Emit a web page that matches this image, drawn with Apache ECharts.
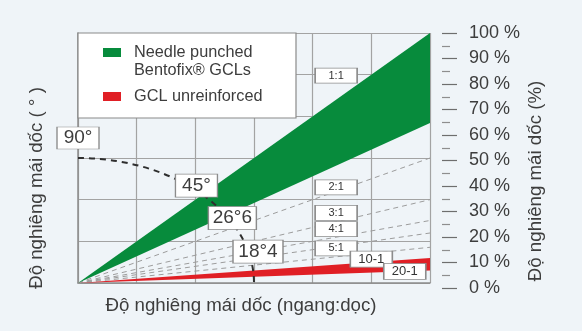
<!DOCTYPE html>
<html>
<head>
<meta charset="utf-8">
<script src="https://cdn.jsdelivr.net/npm/echarts@6/dist/echarts.min.js"></script>
<style>
  html, body { margin: 0; padding: 0; background: #eff4f8; }
  #chart { width: 582px; height: 331px; }
</style>
</head>
<body>
<div id="chart"></div>
<script>
// Horizontal span of the slope diagram (grid units); the vertical span is the same,
// and a full-height rise over the full span is a 100 % slope.
const spanX = [0, 6];
const spanY = [0, 6];

// Slope bands, in percent (lower edge, upper edge)
const bandNames = ['Needle punched Bentofix® GCLs', 'GCL unreinforced'];
const gclBandPct = [64, 100];
const unreinforcedBandPct = [5, 10];

// Dashed guide slopes, as horizontal : vertical ratio
const guideRatios = [2, 3, 4, 5, 7];

// Ratio tags
const ratioTagRatios = [1, 2, 3, 4, 5, 10, 20];
const ratioTagTexts = ['1:1', '2:1', '3:1', '4:1', '5:1', '10-1', '20-1'];
const ratioTagAtX = [4.4, 4.4, 4.4, 4.4, 4.4, 5.0, 5.57];

// Angle marks on the reference arc
const arcRadius = [3];
const angleDegrees = [90, 45, 26.6, 18.4];
const angleTexts = ['90°', '45°', '26°6', '18°4'];

// Right-hand percentage scale
const pctScale = { min: 0, max: 100, step: 10 };

// Axis titles
const titleX = 'Độ nghiêng mái dốc (ngang:dọc)';
const titleLeft = 'Độ nghiêng mái dốc ( ° )';
const titleRight = 'Độ nghiêng mái dốc (%)';

const FONT = '"Liberation Sans", Arial, Helvetica, sans-serif';
const TEXT = '#3d3d3d';
const GREEN = '#078b3c';
const RED = '#e01f25';
const BOX_BORDER = '#8c8c8c';

const chart = echarts.init(document.getElementById('chart'), null, { renderer: 'canvas' });

function bandSeries(name, pct, color) {
  return {
    type: 'custom',
    name: name,
    xAxisIndex: 0, yAxisIndex: 0,
    z: 3, silent: true,
    data: [[spanX[1], pct[0], pct[1]]],
    encode: { x: 0, y: 1 },
    renderItem: function (params, api) {
      const x = api.value(0), lo = api.value(1), hi = api.value(2);
      const o = api.coord([0, 0]);
      const a = api.coord([x, x * hi / 100]);
      const b = api.coord([x, x * lo / 100]);
      return { type: 'polygon', shape: { points: [o, a, b] }, style: { fill: color } };
    }
  };
}

const guideSeries = guideRatios.map(function (r) {
  return {
    type: 'line', xAxisIndex: 0, yAxisIndex: 0, z: 2, silent: true,
    symbol: 'none', animation: false,
    data: [[0, 0], [spanX[1], spanX[1] / r]],
    lineStyle: { color: '#9c9c9c', width: 1, type: [5, 4] }
  };
});

// arc through the angle marks: quarter circle in grid units
const arcSeries = {
  type: 'custom', xAxisIndex: 0, yAxisIndex: 0, z: 4, silent: true,
  data: [[arcRadius[0], 0]],
  encode: { x: 0, y: 1 },
  renderItem: function (params, api) {
    const r = api.value(0);
    const o = api.coord([0, 0]);
    const top = api.coord([0, r]);
    const right = api.coord([r, 0]);
    const rx = right[0] - o[0], ry = o[1] - top[1];
    return {
      type: 'path',
      shape: { pathData: 'M' + top[0] + ' ' + top[1] + ' A' + rx + ' ' + ry + ' 0 0 1 ' + right[0] + ' ' + right[1] },
      style: { fill: 'none', stroke: '#2e2e2e', lineWidth: 2, lineDash: [6, 5] }
    };
  }
};

const angleBoxSizes = [[42, 22], [42, 23], [48, 23], [50, 23]];
const angleBoxOffsets = [[0, -20], [-6, -9], [-3, -9], [13, 8]];
const angleSeries = {
  type: 'scatter', xAxisIndex: 0, yAxisIndex: 0, z: 6, silent: true, animation: false,
  data: angleDegrees.map(function (d, i) {
    const t = d * Math.PI / 180;
    return {
      value: [arcRadius[0] * Math.cos(t), arcRadius[0] * Math.sin(t)],
      symbol: 'rect',
      symbolSize: angleBoxSizes[i],
      symbolOffset: angleBoxOffsets[i],
      label: {
        show: true, position: 'inside', formatter: angleTexts[i],
        fontSize: 19, fontFamily: FONT, color: TEXT
      }
    };
  }),
  itemStyle: { color: '#ffffff', borderColor: BOX_BORDER, borderWidth: 1, opacity: 1 }
};

const ratioBoxSizes = [[42, 15], [42, 15], [42, 15], [42, 15], [42, 15], [42, 16], [42, 16]];
const ratioBoxOffsets = [[0, -24], [0, -4], [0, -9], [0, -8], [0, 2], [0, -3], [0, 0]];
const ratioSeries = {
  type: 'scatter', xAxisIndex: 0, yAxisIndex: 0, z: 6, silent: true, animation: false,
  data: ratioTagRatios.map(function (r, i) {
    const x = ratioTagAtX[i];
    return {
      value: [x, x / r],
      symbol: 'rect',
      symbolSize: ratioBoxSizes[i],
      symbolOffset: ratioBoxOffsets[i],
      label: {
        show: true, position: 'inside', formatter: ratioTagTexts[i],
        fontSize: i >= 5 ? 13 : 11, fontFamily: FONT, color: '#333'
      }
    };
  }),
  itemStyle: { color: '#ffffff', borderColor: BOX_BORDER, borderWidth: 1, opacity: 1 }
};

const option = {
  backgroundColor: '#eff4f8',
  animation: false,
  textStyle: { fontFamily: FONT },
  grid: [
    { left: 78, top: 33, width: 352, height: 250, outerBoundsMode: 'none' },
    { left: 78, top: 33, width: 352, height: 255, outerBoundsMode: 'none' }
  ],
  xAxis: [
    {
      gridIndex: 0, type: 'value', min: spanX[0], max: spanX[1], interval: 1,
      axisLabel: { show: false }, axisTick: { show: false },
      axisLine: { show: true, lineStyle: { color: '#8c8c8c', width: 1.5 } },
      splitLine: { show: true, lineStyle: { color: '#a3a3a3', width: 1.2 } }
    },
    { gridIndex: 1, type: 'value', min: 0, max: 1, show: false }
  ],
  yAxis: [
    {
      gridIndex: 0, type: 'value', min: spanY[0], max: spanY[1], interval: 1,
      axisLabel: { show: false }, axisTick: { show: false },
      axisLine: { show: true, lineStyle: { color: '#8c8c8c', width: 1.5 } },
      splitLine: { show: true, lineStyle: { color: '#a3a3a3', width: 1.2 } }
    },
    {
      gridIndex: 1, type: 'value', position: 'right', offset: 12,
      min: pctScale.min, max: pctScale.max, interval: pctScale.step,
      axisLine: { show: false, onZero: false },
      axisTick: { show: true, length: 15, lineStyle: { color: '#6e6e6e', width: 1.2 } },
      minorTick: { show: true, splitNumber: 2, length: 8, lineStyle: { color: '#8e8e8e', width: 1.2 } },
      splitLine: { show: false },
      axisLabel: { margin: 27, fontSize: 18, color: TEXT, fontFamily: FONT, formatter: '{value} %' }
    }
  ],
  series: guideSeries.concat([
    bandSeries(bandNames[0], gclBandPct, GREEN),
    bandSeries(bandNames[1], unreinforcedBandPct, RED),
    arcSeries,
    angleSeries,
    ratioSeries
  ]),
  graphic: [
    // legend box
    { type: 'rect', z: 20, shape: { x: 78, y: 33, width: 218, height: 85 },
      style: { fill: '#ffffff', stroke: '#8a8a8a', lineWidth: 1.2 } },
    { type: 'rect', z: 21, shape: { x: 103, y: 48, width: 18, height: 9 }, style: { fill: GREEN } },
    { type: 'text', z: 21, x: 134, y: 44,
      style: { text: 'Needle punched\nBentofix® GCLs', fontSize: 16.3, lineHeight: 18, fontFamily: FONT,
               fill: TEXT, verticalAlign: 'top', align: 'left' } },
    { type: 'rect', z: 21, shape: { x: 103, y: 92, width: 18, height: 9 }, style: { fill: RED } },
    { type: 'text', z: 21, x: 134, y: 88,
      style: { text: bandNames[1], fontSize: 16.3, lineHeight: 18, fontFamily: FONT,
               fill: TEXT, verticalAlign: 'top', align: 'left' } },
    // axis titles
    { type: 'text', z: 21, x: 241, y: 306,
      style: { text: titleX, fontSize: 18.7, fontFamily: FONT, fill: TEXT, align: 'center', verticalAlign: 'middle' } },
    { type: 'text', z: 21, x: 37, y: 188, rotation: Math.PI / 2,
      style: { text: titleLeft, fontSize: 18.7, fontFamily: FONT, fill: TEXT, align: 'center', verticalAlign: 'middle' } },
    { type: 'text', z: 21, x: 536, y: 181, rotation: Math.PI / 2,
      style: { text: titleRight, fontSize: 18.7, fontFamily: FONT, fill: TEXT, align: 'center', verticalAlign: 'middle' } }
  ]
};

chart.setOption(option);
</script>
</body>
</html>
